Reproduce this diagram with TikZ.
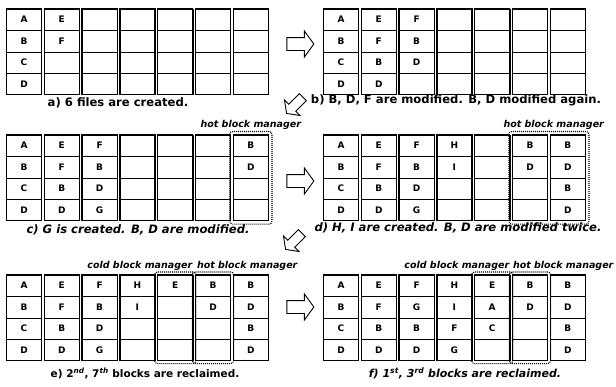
\documentclass[tikz,border=0pt]{standalone}
\usepackage{fontspec}
\setmainfont{DejaVu Sans}
\usetikzlibrary{positioning,fit,shapes.arrows}

% one panel: name, left, top, list of 7 blocks (4 pages each)
\newcommand{\flashpanel}[4]{%
  \foreach \col [count=\i] in {#4} {
    \foreach \txt [count=\j] in \col {
      \node[cell] (#1-\i-\j) at ({#2+18+37.8*(\i-1)}, {#3+10.7+21.4*(\j-1)}) {\txt};
    }
    \node[blockframe, fit=(#1-\i-1)(#1-\i-4)] (#1-\i) {};
  }
}

\begin{document}
\begin{tikzpicture}[x=1pt, y=-1pt,
    cell/.style={draw, line width=0.6pt, minimum width=35.2pt, minimum height=21.4pt, inner sep=0pt, outer sep=0pt, font=\bfseries\fontsize{9}{10}\selectfont},
    blockframe/.style={draw, line width=1.1pt, inner sep=0pt},
    zone/.style={draw, dash pattern=on 1pt off 1pt, line width=1.1pt, rounded corners=3pt, inner sep=3pt},
    zonelabel/.style={inner sep=1pt, font=\bfseries\itshape\fontsize{9.5}{11}\selectfont},
    caption/.style={inner sep=0pt, font=\bfseries\fontsize{11.6}{14}\selectfont},
    slcaption/.style={caption, font=\bfseries\itshape\fontsize{11.6}{14}\selectfont},
    bigarrow/.style={draw, line width=0.9pt, fill=white, single arrow, minimum height=27pt, minimum width=25pt, inner sep=6pt, single arrow head extend=6.5pt, single arrow tip angle=108},
    turnarrow/.style={bigarrow, minimum height=23pt, minimum width=21pt, inner sep=4.5pt, single arrow head extend=6pt, rotate=225}]
\useasboundingbox (0,0) rectangle (616,386);

% a)
\flashpanel{a}{6}{9}{{A,B,C,D},{E,F,{},{}},{{},{},{},{}},{{},{},{},{}},{{},{},{},{}},{{},{},{},{}},{{},{},{},{}}}
\node[caption] (capa) at (118,103) {a) 6 files are created.};

% b)
\flashpanel{b}{323}{9}{{A,B,C,D},{E,F,B,D},{F,B,D,{}},{{},{},{},{}},{{},{},{},{}},{{},{},{},{}},{{},{},{},{}}}
\node[caption] (capb) at (456,100) {b) B, D, F are modified. B, D modified again.};

% c)
\flashpanel{c}{6}{135}{{A,B,C,D},{E,F,B,D},{F,B,D,G},{{},{},{},{}},{{},{},{},{}},{{},{},{},{}},{B,D,{},{}}}
\node[zone, fit=(c-7)] (chot) {};
\node[zonelabel, above=0pt of chot] {hot block manager};
\node[slcaption] (capc) at (138,230) {c) G is created. B, D are modified.};

% d)
\flashpanel{d}{323}{135}{{A,B,C,D},{E,F,B,D},{F,B,D,G},{H,I,{},{}},{{},{},{},{}},{B,D,{},{}},{B,D,B,D}}
\node[zone, fit=(d-6)(d-7)] (dhot) {};
\node[zonelabel, anchor=south west, xshift=-6pt] at (dhot.north west) {hot block manager};
\node[slcaption] (capd) at (458,228) {d) H, I are created. B, D are modified twice.};

% e)
\flashpanel{e}{6}{275}{{A,B,C,D},{E,F,B,D},{F,B,D,G},{H,I,{},{}},{E,{},{},{}},{B,D,{},{}},{B,D,B,D}}
\node[zone, inner sep=2.5pt, fit=(e-5)] (ecold) {};
\node[zone, inner sep=2.5pt, fit=(e-6)] (ehot) {};
\node[zonelabel, anchor=south east, xshift=-3pt] at (ecold.north east) {cold block manager};
\node[zonelabel, anchor=south west, xshift=4pt] at (ehot.north west) {hot block manager};
\node[caption, font=\bfseries\fontsize{10.5}{14}\selectfont] (cape) at (145,373) {e) 2\textsuperscript{\itshape nd}, 7\textsuperscript{\itshape th} blocks are reclaimed.};

% f)
\flashpanel{f}{323}{275}{{A,B,C,D},{E,F,B,D},{F,G,B,D},{H,I,F,G},{E,A,C,{}},{B,D,{},{}},{B,D,B,D}}
\node[zone, inner sep=2.5pt, fit=(f-5)] (fcold) {};
\node[zone, inner sep=2.5pt, fit=(f-6)] (fhot) {};
\node[zonelabel, anchor=south east, xshift=-3pt] at (fcold.north east) {cold block manager};
\node[zonelabel, anchor=south west, xshift=3pt] at (fhot.north west) {hot block manager};
\node[slcaption, font=\bfseries\itshape\fontsize{11}{14}\selectfont] (capf) at (465,373) {f) 1\textsuperscript{st}, 3\textsuperscript{rd} blocks are reclaimed.};

% steps
\node[bigarrow] (ab) at (298,44) {};
\node[turnarrow] (bc) at (296,104) {};
\node[bigarrow] (cd) at (298,181) {};
\node[turnarrow] (de) at (295,240) {};
\node[bigarrow] (ef) at (298,307) {};
\end{tikzpicture}
\end{document}
